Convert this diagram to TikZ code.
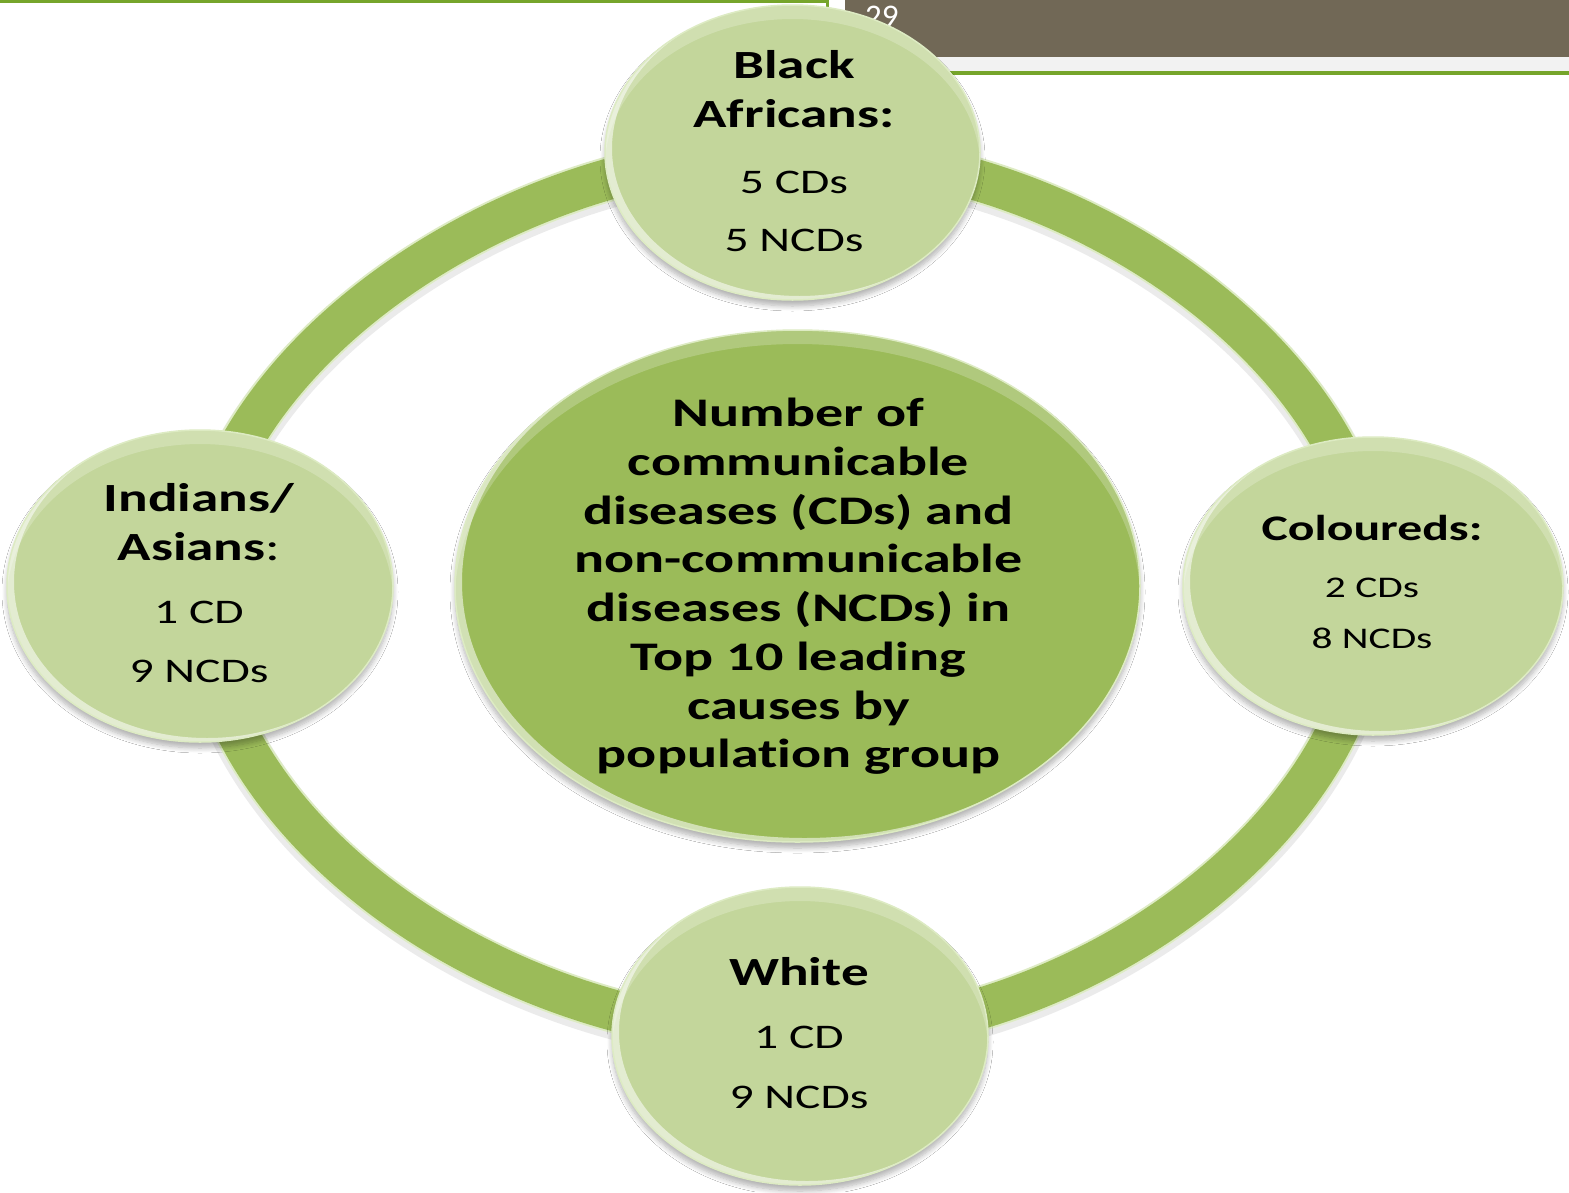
\documentclass[tikz,border=0pt]{standalone}
\usepackage{fontspec}
\setmainfont{Carlito}[FakeStretch=1.38, Ligatures=NoCommon]
\newfontfamily\pagenumfont{Carlito}
\usetikzlibrary{shapes.geometric,calc,shadows.blur}
\pgfdeclarelayer{back}
\pgfsetlayers{back,main}

\definecolor{ringgreen}{HTML}{9BBB59}
\definecolor{palegreen}{HTML}{C3D69B}
\definecolor{rimgreen}{HTML}{DDEBC3}
\definecolor{bandbrown}{HTML}{716856}
\definecolor{stripgray}{HTML}{F2F2F2}
\definecolor{rulegreen}{HTML}{76A52B}

% heading line and count line inside a bubble
\newcommand\grouphead[1]{\textbf{#1}}
\newcommand\tally[2][34.5]{{\fontsize{#1}{40}\selectfont #2}}

\begin{document}
\begin{tikzpicture}[x=1pt,y=-1pt,
  gloss/.style 2 args={path picture={
      \fill[white, opacity=.55, even odd rule]
        (path picture bounding box.north west) rectangle (path picture bounding box.south east)
        ([xshift=7pt,yshift=4pt]path picture bounding box.center) ellipse [x radius={#1/2}, y radius={#2/2}];
      \fill[white, opacity=.22, even odd rule]
        (path picture bounding box.north west) rectangle (path picture bounding box.south east)
        ([yshift=-14pt]path picture bounding box.center) ellipse [x radius={#1/2}, y radius={#2/2}];
    }},
  softshadow/.style={blur shadow={shadow xshift=0pt, shadow yshift=-6pt,
      shadow blur radius=5pt, shadow blur steps=8, shadow opacity=30}},
  bubble/.style 2 args={ellipse, inner sep=0pt, minimum width=#1pt, minimum height=#2pt,
      fill=palegreen, draw=rimgreen, line width=1.5pt, softshadow, gloss={#1}{#2}},
  hub/.style 2 args={ellipse, inner sep=0pt, minimum width=#1pt, minimum height=#2pt,
      fill=ringgreen, draw=rimgreen, line width=1.5pt, softshadow, gloss={#1}{#2}},
  blurb/.style={align=center, inner sep=0pt, text=black},
  ringshade/.style={line width=50pt, draw=black, opacity=.08, transform canvas={yshift=-4pt}},
  ringrim/.style={line width=45pt, draw=rimgreen},
  ringbody/.style={line width=41pt, draw=ringgreen},
]
\useasboundingbox (0,0) rectangle (1569,1192);

% central topic and the four population groups
\node[hub={685}{512}] (core) at (797.5,586) {};
\node[bubble={375}{295}] (ba) at (792.5,152.5) {};
\node[bubble={386}{312}] (ia) at (200,586) {};
\node[bubble={380}{298}] (co) at (1373,586) {};
\node[bubble={376}{298}] (wh) at (800,1036) {};

\node[blurb, font=\bfseries\fontsize{40.6}{48.7}\selectfont] (coretext) at (798.5,586.5)
  {Number of\\communicable\\diseases (CDs) and\\non-communicable\\diseases (NCDs) in\\Top 10 leading\\causes by\\population group};
\node[blurb, font=\fontsize{40}{49}\selectfont] (batext) at (794,151.5)
  {\grouphead{Black}\\\grouphead{Africans:}\\[17pt]\tally{5 CDs}\\[9pt]\tally{5 NCDs}};
\node[blurb, font=\fontsize{40}{49}\selectfont] (iatext) at (199,583.5)
  {\grouphead{Indians/}\\\grouphead{Asians}:\\[14pt]\tally{1 CD}\\[10pt]\tally{9 NCDs}};
\node[blurb, font=\fontsize{36}{51}\selectfont] (cotext) at (1372,582)
  {\grouphead{Coloureds:}\\[6pt]\tally[30]{2 CDs}\\\tally[30]{8 NCDs}};
\node[blurb, font=\fontsize{40}{60}\selectfont] (whtext) at (799,1033.5)
  {\grouphead{White}\\[3pt]\tally{1 CD}\\\tally{9 NCDs}};

% ring linking the groups
\def\ringpath{(ba.center)
  .. controls ($(ba.center)+(295,0)$) and ($(co.center)+(0,-215)$) .. (co.center)
  .. controls ($(co.center)+(0,236)$) and ($(wh.center)+(285,0)$) .. (wh.center)
  .. controls ($(wh.center)+(-308,0)$) and ($(ia.center)+(0,236)$) .. (ia.center)
  .. controls ($(ia.center)+(0,-215)$) and ($(ba.center)+(-298,0)$) .. (ba.center) -- cycle}

\begin{pgfonlayer}{back}
  \fill[white] (0,0) rectangle (1569,1192);
  % slide header
  \fill[rulegreen] (0,0) rectangle (829,3);
  \fill[rulegreen] (826,0) rectangle (829,20);
  \fill[bandbrown] (845,0) rectangle (1569,57);
  \fill[stripgray] (845,57) rectangle (1569,71);
  \fill[rulegreen] (845,71) rectangle (1569,75);
  \node[anchor=base west, inner sep=0pt, text=white, font=\pagenumfont\fontsize{33}{34}\selectfont] (pagenum) at (865,27) {29};
  % ring
  \draw[ringshade] \ringpath;
  \draw[ringrim] \ringpath;
  \draw[ringbody] \ringpath;
\end{pgfonlayer}
\end{tikzpicture}
\end{document}
